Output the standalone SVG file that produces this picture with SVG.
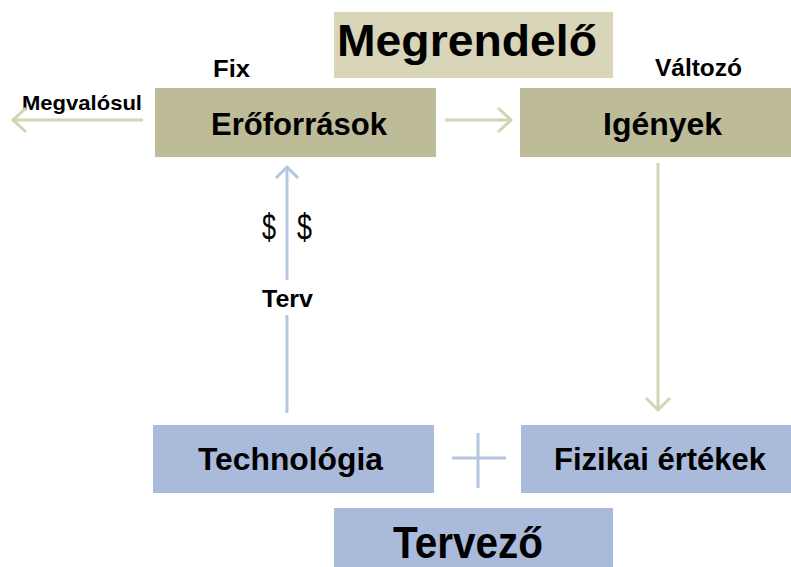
<svg xmlns="http://www.w3.org/2000/svg" width="791" height="567" viewBox="0 0 791 567">
<style>
text{font-family:"Liberation Sans",Arial,sans-serif;font-weight:bold;fill:#000}
.olive{fill:#bebb98}
.lolive{fill:#d8d5b8}
.blue{fill:#aabadb}
.ao{stroke:#d2d4b2;stroke-width:3;fill:none}
.ab{stroke:#b6c6e0;stroke-width:3;fill:none}
</style>
<rect width="791" height="567" fill="#ffffff"/>
<g id="megrendelo">
<rect class="lolive" x="334" y="12" width="279" height="66"/>
<text x="337" y="56" font-size="45" textLength="260" lengthAdjust="spacingAndGlyphs">Megrendelő</text>
</g>
<g id="eroforrasok">
<rect class="olive" x="155" y="88" width="281" height="69"/>
<text x="211" y="135" font-size="32" textLength="176" lengthAdjust="spacingAndGlyphs">Erőforrások</text>
</g>
<g id="igenyek">
<rect class="olive" x="520" y="88" width="271" height="69"/>
<text x="603" y="135" font-size="32" textLength="119" lengthAdjust="spacingAndGlyphs">Igények</text>
</g>
<g id="technologia">
<rect class="blue" x="153" y="425" width="281" height="68"/>
<text x="198" y="470" font-size="32" textLength="185" lengthAdjust="spacingAndGlyphs">Technológia</text>
</g>
<g id="fizikai">
<rect class="blue" x="521" y="425" width="270" height="68"/>
<text x="554" y="470" font-size="32" textLength="212" lengthAdjust="spacingAndGlyphs">Fizikai értékek</text>
</g>
<g id="tervezo">
<rect class="blue" x="334" y="508" width="279" height="59"/>
<text x="393" y="558" font-size="44" textLength="150" lengthAdjust="spacingAndGlyphs">Tervező</text>
</g>
<g id="labels">
<text x="213" y="77" font-size="23" textLength="37" lengthAdjust="spacingAndGlyphs">Fix</text>
<text x="655" y="76" font-size="23" textLength="87" lengthAdjust="spacingAndGlyphs">Változó</text>
<text x="22" y="110" font-size="21" textLength="120" lengthAdjust="spacingAndGlyphs">Megvalósul</text>
<text x="262" y="307" font-size="24" textLength="51" lengthAdjust="spacingAndGlyphs">Terv</text>
<text x="262" y="240" font-size="36" textLength="14" lengthAdjust="spacingAndGlyphs" style="font-weight:normal">$</text>
<text x="297" y="240" font-size="36" textLength="15" lengthAdjust="spacingAndGlyphs" style="font-weight:normal">$</text>
</g>
<g id="connectors">
<line class="ao" x1="143" y1="120" x2="13" y2="120"/>
<polyline class="ao" points="26,108 13,120 26,132"/>
<line class="ao" x1="445" y1="120" x2="511" y2="120"/>
<polyline class="ao" points="498,108 511,120 498,132"/>
<line class="ao" x1="658" y1="163" x2="658" y2="410"/>
<polyline class="ao" points="646,398 658,410 670,398"/>
<line class="ab" x1="287" y1="167" x2="287" y2="280"/>
<line class="ab" x1="287" y1="315" x2="287" y2="413"/>
<polyline class="ab" points="276,178 287,167 298,178"/>
<line class="ab" x1="452" y1="458" x2="506" y2="458" stroke-width="2"/>
<line class="ab" x1="478" y1="433" x2="478" y2="488" stroke-width="2"/>
</g>
</svg>
